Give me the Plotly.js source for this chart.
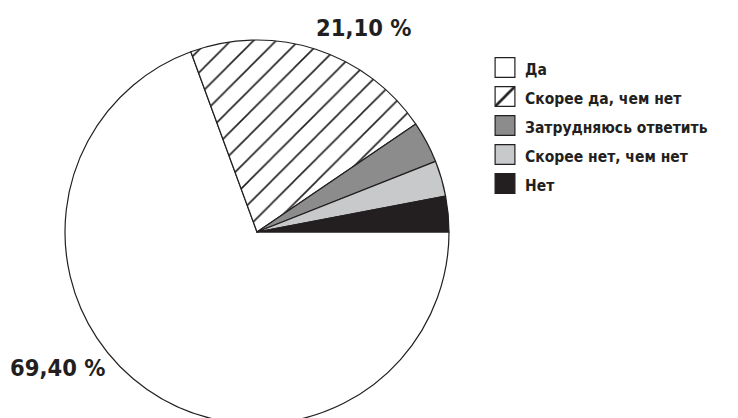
<!DOCTYPE html>
<html><head><meta charset="utf-8">
<script src="https://cdn.plot.ly/plotly-3.0.1.min.js"></script>
<style>html,body{margin:0;padding:0;overflow:hidden;background:#fff;width:738px;height:418px}</style>
</head><body>
<div id="chart" style="width:738px;height:436px"></div>
<script>
const categories = ["Да", "Скорее да, чем нет", "Затрудняюсь ответить", "Скорее нет, чем нет", "Нет"];
const values = [69.4, 21.1, 3.5, 3.0, 3.0];
const valueLabels = ["69,40 %", "21,10 %"];
const fills = ["#ffffff", "#ffffff", "#8c8c8c", "#c8c9ca", "#231f20"];
const patterns = ["", "/", "", "", ""];

const H = 436;
const fontFam = "'DejaVu Sans Condensed', 'Liberation Sans Narrow', 'Open Sans', sans-serif";

const trace = {
  type: "pie",
  labels: categories.map(c => '<span style="font-size:15.5px">' + c + '</span>'),
  values: values,
  sort: false,
  direction: "clockwise",
  rotation: 90,
  textinfo: "none",
  hoverinfo: "label+percent",
  marker: {
    colors: fills,
    line: {color: "#231f20", width: 1.2},
    pattern: {shape: patterns, fgcolor: "#231f20", bgcolor: "#ffffff", size: 16, solidity: 0.1}
  },
  domain: {x: [65/738, 449/738], y: [(H-424)/H, (H-40)/H]}
};

const layout = {
  width: 738, height: H,
  margin: {l: 0, r: 0, t: 0, b: 0},
  paper_bgcolor: "#fff",
  showlegend: true,
  legend: {
    x: 485/738, y: 1 - 48/H, xanchor: "left", yanchor: "top",
    font: {family: fontFam, size: 20, color: "#231f20", weight: "bold"},
    traceorder: "normal"
  },
  annotations: [
    {text: "<b>" + valueLabels[1] + "</b>", x: 363/738, y: 1 - 28/H, xref: "paper", yref: "paper",
     xanchor: "center", yanchor: "middle",
     showarrow: false, font: {family: fontFam, size: 23.5, color: "#231f20"}},
    {text: "<b>" + valueLabels[0] + "</b>", x: 57/738, y: 1 - 368/H, xref: "paper", yref: "paper",
     xanchor: "center", yanchor: "middle",
     showarrow: false, font: {family: fontFam, size: 23.5, color: "#231f20"}}
  ]
};

Plotly.newPlot("chart", [trace], layout, {displayModeBar: false, staticPlot: true}).then(function () {
  document.querySelectorAll("#chart .legend .legendpoints path").forEach(function (p) {
    const t = p.getAttribute("transform") || "";
    p.setAttribute("transform", t + " scale(1.65)");
    p.setAttribute("vector-effect", "non-scaling-stroke");
  });
});
</script>
</body></html>
